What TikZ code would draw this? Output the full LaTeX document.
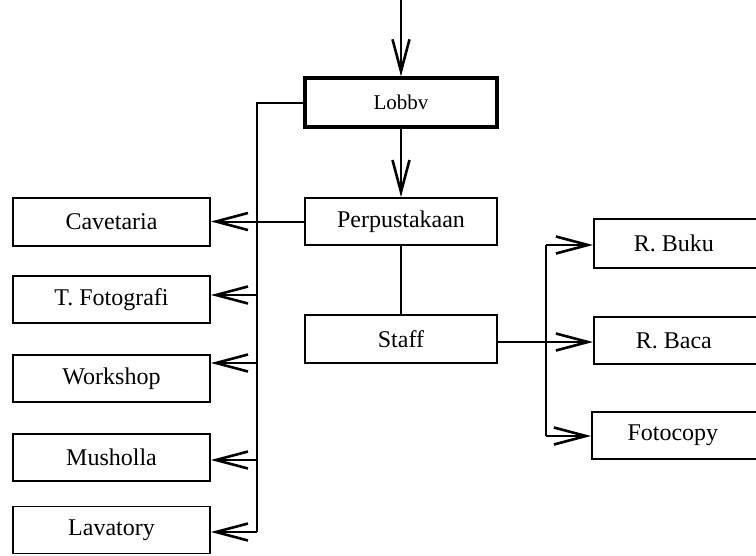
\documentclass[tikz,border=0pt]{standalone}
\usepackage{fontspec}
\setmainfont{Liberation Serif}
\usetikzlibrary{arrows.meta}
\begin{document}
\begin{tikzpicture}[x=1pt,y=-1pt,
  box/.style={draw, line width=1.8pt, inner sep=0pt, minimum height=47pt,
    font=\fontsize{24}{28}\selectfont},
  lbox/.style={box, minimum width=197pt},
  cbox/.style={box, minimum width=192pt},
  rbox/.style={box, minimum width=170pt, anchor=west},
  link/.style={line width=2pt},
  arr/.style={link, -{Straight Barb[length=32pt,width=17pt,line width=2.6pt]}}]
\useasboundingbox (0,0) rectangle (756,555);

% central column
\node[cbox, line width=3.2pt, minimum height=49pt, font=\fontsize{21}{25}\selectfont] (lobby) at (401,102.5) {Lobbv};
\node[cbox] (perp) at (401,221.5) {Perpustakaan};
\node[cbox, minimum height=48pt] (staff) at (401,339) {Staff};

% left column
\node[lbox, minimum height=48pt] (cav) at (111.5,222) {Cavetaria};
\node[lbox] (foto) at (111.5,299.5) {T. Fotografi};
\node[lbox] (work) at (111.5,378.5) {Workshop};
\node[lbox] (mus) at (111.5,457.5) {Musholla};
\node[lbox] (lav) at (111.5,530) {Lavatory};

% right column
\node[rbox, minimum height=49pt] (buku) at (593,243.5) {\hspace*{-4pt}R. Buku\hspace*{6pt}};
\node[rbox] (baca) at (593,340.5) {\hspace*{-4pt}R. Baca\hspace*{6pt}};
\node[rbox, minimum width=172pt] (copy) at (591,435.5) {\hspace*{-4pt}Fotocopy\hspace*{6pt}};

% entrance and main axis
\coordinate (entry) at (401,0);
\draw[arr] (entry) -- (lobby.north);
\draw[arr] (lobby.south) -- (perp.north);
\draw[link] (perp.south) -- (staff.north);

% left distribution line
\coordinate (ltop) at (257,103);
\coordinate (lfoto) at (257,295);
\coordinate (lwork) at (257,363);
\coordinate (lmus) at (257,460);
\coordinate (llav) at (257,532);
\draw[link] (lobby.west |- ltop) -- (ltop) -- (llav);
\draw[arr] (llav) -- (llav -| lav.east);
\draw[arr] (perp.west) -- (perp.west -| cav.east);
\draw[arr] (lfoto) -- (lfoto -| foto.east);
\draw[arr] (lwork) -- (lwork -| work.east);
\draw[arr] (lmus) -- (lmus -| mus.east);

% right distribution line
\coordinate (rmid) at (546,342);
\coordinate (rtop) at (546,245);
\coordinate (rbot) at (546,436);
\draw[link] (staff.east |- rmid) -- (rmid);
\draw[link] (rtop) -- (rbot);
\draw[arr] (rtop) -- (rtop -| buku.west);
\draw[arr] (rmid) -- (rmid -| baca.west);
\draw[arr] (rbot) -- (rbot -| copy.west);
\end{tikzpicture}
\end{document}
